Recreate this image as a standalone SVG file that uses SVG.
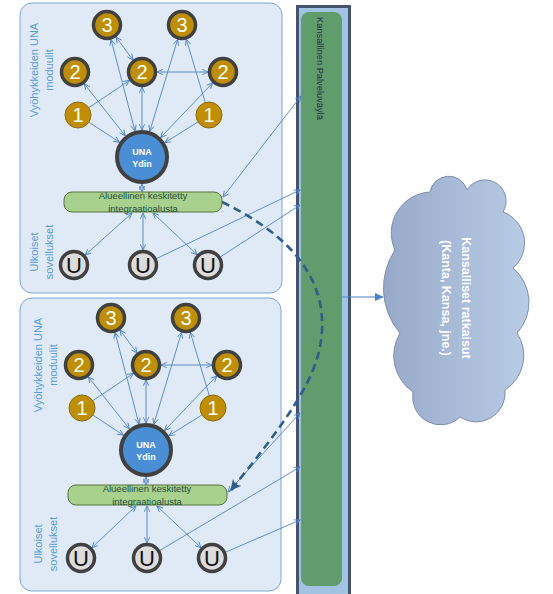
<svg xmlns="http://www.w3.org/2000/svg" width="553" height="594" viewBox="0 0 553 594">
<style>
.panel{fill:#dfeaf6;stroke:#7ea6d2;stroke-width:1}
.lbl{font-family:"Liberation Sans",Arial,sans-serif;font-size:11px;fill:#5b9bd5;text-anchor:middle}
.ring{fill:#bf8f00;stroke:#404040;stroke-width:3.5}
.one{fill:#bf8f00;stroke:#8a6a10;stroke-width:1}
.num{font-family:"Liberation Sans",Arial,sans-serif;font-size:20px;fill:#ffffff;text-anchor:middle}
.u{fill:#dcdcdc;stroke:#404040;stroke-width:3.5}
.ut{font-family:"Liberation Sans",Arial,sans-serif;font-size:22px;fill:#111111;text-anchor:middle}
.core{fill:#4a8fd6;stroke:#404040;stroke-width:4}
.coret{font-family:"Liberation Sans",Arial,sans-serif;font-size:9px;font-weight:bold;fill:#ffffff;text-anchor:middle}
.gbox{fill:#a9d18e;stroke:#56733c;stroke-width:1}
.gt{font-family:"Liberation Sans",Arial,sans-serif;font-size:9.5px;fill:#1f4e3d;text-anchor:middle}
.c{fill:none;stroke:#4f84c4;stroke-width:0.9}
.b{marker-start:url(#ah);marker-end:url(#ah)}
.e{marker-end:url(#ah)}
</style>
<defs>
<marker id="ah" viewBox="0 0 7 7" markerWidth="7" markerHeight="7" refX="6.3" refY="3.5" orient="auto-start-reverse" markerUnits="userSpaceOnUse">
<path d="M0.5,0.8 L6.3,3.5 L0.5,6.2" fill="none" stroke="#4f84c4" stroke-width="0.9"/>
</marker>
<marker id="fa" viewBox="0 0 10 10" markerWidth="9" markerHeight="9" refX="9" refY="5" orient="auto" markerUnits="userSpaceOnUse">
<path d="M0,0.5 L10,5 L0,9.5 Z" fill="#4f84c4"/>
</marker>
<marker id="da" viewBox="0 0 10 10" markerWidth="11" markerHeight="11" refX="9" refY="5" orient="auto" markerUnits="userSpaceOnUse">
<path d="M0,0 L10,5 L0,10 L2.5,5 Z" fill="#2f5d8c"/>
</marker>
<linearGradient id="cloudg" x1="0" y1="0" x2="1" y2="0">
<stop offset="0" stop-color="#97a9c8"/>
<stop offset="1" stop-color="#b9cce6"/>
</linearGradient>
</defs>

<g id="panel-top">
<rect class="panel" x="20" y="3" width="262" height="290" rx="12"/>
<text class="lbl" transform="translate(38,70) rotate(-90)">Vyöhykkeiden UNA</text>
<text class="lbl" transform="translate(53,70) rotate(-90)">moduulit</text>
<text class="lbl" transform="translate(38,252) rotate(-90)">Ulkoiset</text>
<text class="lbl" transform="translate(53,252) rotate(-90)">sovellukset</text>
</g>
<g id="panel-bottom">
<rect class="panel" x="20" y="298" width="261" height="293" rx="12"/>
<text class="lbl" transform="translate(42,365) rotate(-90)">Vyöhykkeiden UNA</text>
<text class="lbl" transform="translate(57,365) rotate(-90)">moduulit</text>
<text class="lbl" transform="translate(42,544) rotate(-90)">Ulkoiset</text>
<text class="lbl" transform="translate(57,544) rotate(-90)">sovellukset</text>
</g>

<g id="palveluvayla">
<rect x="297.5" y="6.5" width="52" height="590" fill="#a3c3e3" stroke="#44546a" stroke-width="3"/>
<rect x="301" y="12" width="41" height="574" rx="8" fill="#609c6c"/>
<text transform="translate(316.5,17) rotate(90)" font-family="Liberation Sans, Arial, sans-serif" font-size="9.3" fill="#1e3346">Kansallinen Palveluväylä</text>
</g>

<g id="kansalliset">
<path d="M430,192 A19,19 0 0 1 467,190 A21,21 0 0 1 503,212 A33,33 0 0 1 513,268 A45,45 0 0 1 517,333 A41,41 0 0 1 505,390 A29,29 0 0 1 460,417 A28,28 0 0 1 413,392 A44,44 0 0 1 400,333 A69,69 0 0 1 395,250 A41,41 0 0 1 430,192 Z" fill="url(#cloudg)" stroke="#7f8ea8" stroke-width="1"/>
<text transform="translate(462,298) rotate(90)" font-family="Liberation Sans, Arial, sans-serif" font-size="12.5" font-weight="bold" fill="#ffffff" text-anchor="middle">Kansalliset ratkaisut</text>
<text transform="translate(442,298) rotate(90)" font-family="Liberation Sans, Arial, sans-serif" font-size="12.5" font-weight="bold" fill="#ffffff" text-anchor="middle">(Kanta, Kansa, jne.)</text>
</g>

<g id="connectors">
<!-- top panel -->
<line class="c b" x1="116" y1="37" x2="133" y2="60"/>
<line class="c b" x1="111" y1="39.5" x2="135" y2="131"/>
<line class="c b" x1="177.6" y1="39.4" x2="149.8" y2="131.2"/>
<line class="c e" x1="205.3" y1="102.6" x2="186.3" y2="39.4"/>
<line class="c b" x1="84.3" y1="83.8" x2="125.3" y2="135.8"/>
<line class="c e" x1="88.8" y1="107.7" x2="129.5" y2="80.4"/>
<line class="c e" x1="88.9" y1="122.1" x2="119.4" y2="142.2"/>
<line class="c b" x1="142" y1="87" x2="142" y2="130"/>
<line class="c b" x1="157" y1="72" x2="208" y2="72"/>
<line class="c b" x1="212.7" y1="82.9" x2="160.6" y2="137.5"/>
<line class="c e" x1="198" y1="121.9" x2="164.9" y2="142.7"/>
<line class="c b" x1="142" y1="184" x2="142" y2="192"/>
<line class="c b" x1="132" y1="213" x2="85.2" y2="255"/>
<line class="c b" x1="143" y1="213" x2="143" y2="250"/>
<line class="c b" x1="153" y1="213" x2="197.1" y2="254.7"/>
<line class="c e" x1="156.5" y1="258.6" x2="300" y2="190"/>
<line class="c e" x1="220.6" y1="256.8" x2="300" y2="205"/>
<line class="c b" x1="301" y1="96" x2="223" y2="197"/>
<!-- bottom panel -->
<line class="c b" x1="120" y1="330" x2="137" y2="353"/>
<line class="c b" x1="115" y1="332.5" x2="139" y2="424"/>
<line class="c b" x1="181.6" y1="332.4" x2="153.8" y2="424.2"/>
<line class="c e" x1="209.3" y1="395.6" x2="190.3" y2="332.4"/>
<line class="c b" x1="88.3" y1="376.8" x2="129.3" y2="428.8"/>
<line class="c e" x1="92.8" y1="400.7" x2="133.5" y2="373.4"/>
<line class="c e" x1="92.9" y1="415.1" x2="123.4" y2="435.2"/>
<line class="c b" x1="146" y1="380" x2="146" y2="423"/>
<line class="c b" x1="161" y1="365" x2="212" y2="365"/>
<line class="c b" x1="216.7" y1="375.9" x2="164.6" y2="430.5"/>
<line class="c e" x1="202" y1="414.9" x2="168.9" y2="435.7"/>
<line class="c b" x1="146" y1="477" x2="146" y2="485"/>
<line class="c b" x1="136" y1="506" x2="91.9" y2="547.7"/>
<line class="c b" x1="147" y1="506" x2="147" y2="543"/>
<line class="c b" x1="157" y1="506" x2="201.1" y2="547.7"/>
<line class="c e" x1="159.9" y1="550.4" x2="300" y2="467"/>
<line class="c e" x1="225.8" y1="552.1" x2="300" y2="520"/>
<line class="c b" x1="300" y1="413" x2="228" y2="492"/>
<!-- to cloud -->
<line x1="342" y1="297" x2="383" y2="297" stroke="#4f84c4" stroke-width="1" marker-end="url(#fa)"/>
<!-- dashed -->
<path d="M222,202 C280,230 325,270 322,330 C320,370 300,405 231,490" fill="none" stroke="#2f5d8c" stroke-width="2.6" stroke-dasharray="8,5" marker-end="url(#da)"/>
</g>

<!-- top nodes -->
<g id="t-m3a"><circle class="ring" cx="107" cy="25" r="13.5"/><text class="num" x="107" y="32">3</text></g>
<g id="t-m3b"><circle class="ring" cx="182" cy="25" r="13.5"/><text class="num" x="182" y="32">3</text></g>
<g id="t-m2a"><circle class="ring" cx="75" cy="72" r="13.5"/><text class="num" x="75" y="79">2</text></g>
<g id="t-m2b"><circle class="ring" cx="142" cy="72" r="13.5"/><text class="num" x="142" y="79">2</text></g>
<g id="t-m2c"><circle class="ring" cx="223" cy="72" r="13.5"/><text class="num" x="223" y="79">2</text></g>
<g id="t-m1a"><circle class="one" cx="78" cy="115" r="13"/><text class="num" x="78" y="122">1</text></g>
<g id="t-m1b"><circle class="one" cx="209" cy="115" r="13"/><text class="num" x="209" y="122">1</text></g>
<g id="t-core"><circle class="core" cx="142" cy="157" r="25"/><text class="coret" x="142" y="155">UNA</text><text class="coret" x="142" y="167">Ydin</text></g>
<g id="t-integ"><rect class="gbox" x="64" y="192" width="158" height="20" rx="8"/><text class="gt" x="143" y="198.5">Alueellinen keskitetty</text><text class="gt" x="143" y="211.5">integraatioalusta</text></g>
<g id="t-u1"><circle class="u" cx="74" cy="265" r="13.5"/><text class="ut" x="74" y="273">U</text></g>
<g id="t-u2"><circle class="u" cx="143" cy="265" r="13.5"/><text class="ut" x="143" y="273">U</text></g>
<g id="t-u3"><circle class="u" cx="208" cy="265" r="13.5"/><text class="ut" x="208" y="273">U</text></g>

<!-- bottom nodes -->
<g id="b-m3a"><circle class="ring" cx="111" cy="318" r="13.5"/><text class="num" x="111" y="325">3</text></g>
<g id="b-m3b"><circle class="ring" cx="186" cy="318" r="13.5"/><text class="num" x="186" y="325">3</text></g>
<g id="b-m2a"><circle class="ring" cx="79" cy="365" r="13.5"/><text class="num" x="79" y="372">2</text></g>
<g id="b-m2b"><circle class="ring" cx="146" cy="365" r="13.5"/><text class="num" x="146" y="372">2</text></g>
<g id="b-m2c"><circle class="ring" cx="227" cy="365" r="13.5"/><text class="num" x="227" y="372">2</text></g>
<g id="b-m1a"><circle class="one" cx="82" cy="408" r="13"/><text class="num" x="82" y="415">1</text></g>
<g id="b-m1b"><circle class="one" cx="213" cy="408" r="13"/><text class="num" x="213" y="415">1</text></g>
<g id="b-core"><circle class="core" cx="146" cy="450" r="25"/><text class="coret" x="146" y="448">UNA</text><text class="coret" x="146" y="460">Ydin</text></g>
<g id="b-integ"><rect class="gbox" x="68" y="485" width="159" height="20" rx="8"/><text class="gt" x="147" y="491.5">Alueellinen keskitetty</text><text class="gt" x="147" y="504.5">integraatioalusta</text></g>
<g id="b-u1"><circle class="u" cx="81" cy="558" r="13.5"/><text class="ut" x="81" y="566">U</text></g>
<g id="b-u2"><circle class="u" cx="147" cy="558" r="13.5"/><text class="ut" x="147" y="566">U</text></g>
<g id="b-u3"><circle class="u" cx="212" cy="558" r="13.5"/><text class="ut" x="212" y="566">U</text></g>
</svg>
